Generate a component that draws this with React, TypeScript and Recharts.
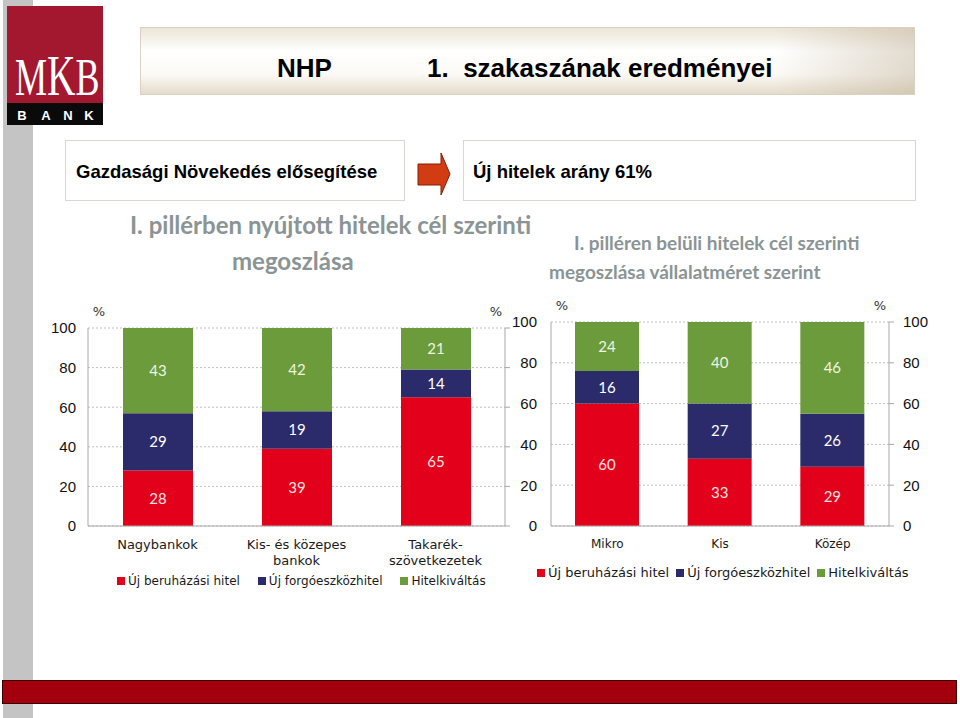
import React from 'react';
import { BarChart, Bar, XAxis, YAxis, CartesianGrid, Legend, LabelList } from 'recharts';

// series shared by both charts
const seriesNames = ['Új beruházási hitel', 'Új forgóeszközhitel', 'Hitelkiváltás'];
const seriesKeys = ['invest', 'working', 'refi'];
const seriesColors = ['#e2001a', '#2b2a6b', '#6b9b3a'];
const labelColors = ['#fde3e3', '#ffffff', '#eef5e2'];

// left chart: by bank type
const bankCategories = ['Nagybankok', 'Kis- és közepes\nbankok', 'Takarék-\nszövetkezetek'];
const bankInvestment = [28, 39, 65];
const bankWorking = [29, 19, 14];
const bankRefinance = [43, 42, 21];

// right chart: by company size
const sizeCategories = ['Mikro', 'Kis', 'Közép'];
const sizeInvestment = [60, 33, 29];
const sizeWorking = [16, 27, 26];
const sizeRefinance = [24, 40, 46];

const percentTicks = [0, 20, 40, 60, 80, 100];

const buildRows = (cats: string[], a: number[], b: number[], c: number[]) =>
  cats.map((name, i) => ({ name, invest: a[i], working: b[i], refi: c[i] }));

const bankRows = buildRows(bankCategories, bankInvestment, bankWorking, bankRefinance);
const sizeRows = buildRows(sizeCategories, sizeInvestment, sizeWorking, sizeRefinance);

const axisColor = '#a8a8a8';
const titleColor = '#8b9494';

const CategoryTick = (props: any) => {
  const { x, y, payload, fontSize, firstDy } = props;
  const lines = String(payload.value).split('\n');
  return (
    <text x={x} y={y} textAnchor="middle" fill="#1a1a1a" fontFamily="DejaVu Sans" fontSize={fontSize}>
      {lines.map((line, i) => (
        <tspan key={i} x={x} dy={i === 0 ? firstDy : 16}>
          {line}
        </tspan>
      ))}
    </text>
  );
};

const percentLabel = (side: 'left' | 'right', dx: number, dy: number) => (props: any) => {
  const vb = props.viewBox || { x: 0, y: 0, width: 0 };
  const x = side === 'left' ? vb.x + vb.width + dx : vb.x - dx;
  return (
    <text x={x} y={vb.y - dy} textAnchor="middle" fill="#333" fontFamily="DejaVu Sans" fontSize={13}>
      %
    </text>
  );
};

const legendContent = (fontSize: number, gap: number) => (props: any) => {
  const items = [...(props.payload || [])].sort(
    (a: any, b: any) => seriesNames.indexOf(a.value) - seriesNames.indexOf(b.value)
  );
  return (
    <div
      style={{
        display: 'flex',
        gap,
        fontFamily: 'DejaVu Sans',
        fontSize,
        color: '#1a1a1a',
        whiteSpace: 'nowrap',
        lineHeight: '16px',
      }}
    >
      {items.map((entry: any) => (
        <span key={entry.value} style={{ display: 'flex', alignItems: 'center' }}>
          <span style={{ width: 8, height: 8, background: entry.color, marginRight: 3 }} />
          {entry.value}
        </span>
      ))}
    </div>
  );
};

interface StackedProps {
  rows: any[];
  width: number;
  height: number;
  marginTop: number;
  marginBottom: number;
  leftWidth: number;
  rightWidth: number;
  leftTickGap: number;
  barSize: number;
  catFontSize: number;
  catDy: number;
  legendFontSize: number;
  legendGap: number;
  legendLeft: number;
  legendTop: number;
  showRightTicks: boolean;
}

const StackedChart = (p: StackedProps) => (
  <BarChart
    width={p.width}
    height={p.height}
    data={p.rows}
    margin={{ top: p.marginTop, right: 0, bottom: p.marginBottom, left: 0 }}
  >
    <CartesianGrid yAxisId="left" vertical={false} stroke="#bfbfbf" strokeDasharray="2 2" />
    <XAxis
      dataKey="name"
      height={40}
      tickLine={false}
      tickSize={0}
      tickMargin={0}
      stroke={axisColor}
      interval={0}
      tick={<CategoryTick fontSize={p.catFontSize} firstDy={p.catDy} />}
    />
    <YAxis
      yAxisId="left"
      orientation="left"
      width={p.leftWidth}
      domain={[0, 100]}
      allowDataOverflow
      ticks={percentTicks}
      interval={0}
      tickLine={false}
      tickSize={0}
      tickMargin={p.leftTickGap}
      stroke={axisColor}
      tick={{ fill: '#111', fontSize: 15, fontFamily: 'Liberation Sans' }}
      label={{ content: percentLabel('left', 11, 12) }}
    />
    <YAxis
      yAxisId="right"
      orientation="right"
      width={p.rightWidth}
      domain={[0, 100]}
      allowDataOverflow
      ticks={percentTicks}
      interval={0}
      tickSize={5}
      tickMargin={9}
      stroke={axisColor}
      tick={p.showRightTicks ? { fill: '#111', fontSize: 15, fontFamily: 'Liberation Sans' } : () => <g />}
      label={{ content: percentLabel('right', 9, 12) }}
    />
    <Legend
      layout="horizontal"
      verticalAlign="middle"
      align="center"
      wrapperStyle={{ left: p.legendLeft, top: p.legendTop, width: 'auto' }}
      content={legendContent(p.legendFontSize, p.legendGap)}
    />
    {seriesKeys.map((key, i) => (
      <Bar
        key={key}
        dataKey={key}
        name={seriesNames[i]}
        yAxisId="left"
        stackId="a"
        fill={seriesColors[i]}
        barSize={p.barSize}
        isAnimationActive={false}
      >
        <LabelList
          dataKey={key}
          position="center"
          fill={labelColors[i]}
          fontSize={15}
          fontFamily="Lato"
        />
      </Bar>
    ))}
  </BarChart>
);

export default function App() {
  return (
    <div
      style={{
        position: 'absolute',
        left: 0,
        top: 0,
        width: 960,
        height: 718,
        background: '#fff',
        overflow: 'hidden',
        fontFamily: '"Liberation Sans", Arial, sans-serif',
      }}
    >
      {/* grey strip on the left */}
      <div style={{ position: 'absolute', left: 3, top: 0, width: 30, height: 718, background: '#c4c4c4' }} />

      {/* logo */}
      <svg style={{ position: 'absolute', left: 7, top: 6 }} width={96} height={120}>
        <rect x={0} y={0} width={96} height={97} fill="#a3172f" />
        <rect x={0} y={97} width={96} height={22} fill="#0a0a0a" />
        <g transform="translate(8,0) scale(0.68,1)">
          <text x={0} y={89} fill="#fff" fontFamily="Liberation Serif">
            <tspan fontSize={53}>M</tspan>
            <tspan fontSize={58}>K</tspan>
            <tspan fontSize={53}>B</tspan>
          </text>
        </g>
        {['B', 'A', 'N', 'K'].map((ch, i) => (
          <text key={ch + i} x={[15, 39, 61, 82][i]} y={114} textAnchor="middle" fill="#fff" fontFamily="Liberation Sans" fontWeight="bold" fontSize={13}>
            {ch}
          </text>
        ))}
      </svg>

      {/* title box */}
      <div
        style={{
          position: 'absolute',
          left: 140,
          top: 27,
          width: 773,
          height: 66,
          border: '1px solid #d9d2c3',
          background:
            'linear-gradient(90deg, rgba(255,255,255,0) 82%, rgba(190,175,150,0.45) 100%), linear-gradient(180deg, #ece5d7 0%, #ffffff 35%, #fcfaf6 70%, #e4dccb 100%)',
        }}
      />
      <div style={{ position: 'absolute', left: 277, top: 55, fontSize: 26, lineHeight: 1, fontWeight: 'bold', color: '#000' }}>NHP</div>
      <div style={{ position: 'absolute', left: 427, top: 55, fontSize: 26, lineHeight: 1, fontWeight: 'bold', color: '#000', whiteSpace: 'pre' }}>
        1.  szakaszának eredményei
      </div>

      {/* sub-header boxes */}
      <div style={{ position: 'absolute', left: 65, top: 140, width: 338, height: 59, border: '1px solid #d8d8d2', background: '#fff' }} />
      <div style={{ position: 'absolute', left: 76, top: 163, fontSize: 18.5, lineHeight: 1, fontWeight: 'bold', color: '#000', whiteSpace: 'nowrap' }}>
        Gazdasági Növekedés elősegítése
      </div>
      <svg style={{ position: 'absolute', left: 416, top: 151 }} width={38} height={48}>
        <polygon points="2,13 25,13 25,2 34,23 25,44 25,34 2,34" fill="#d23c12" stroke="#8a1c05" strokeWidth={1} />
      </svg>
      <div style={{ position: 'absolute', left: 463, top: 140, width: 451, height: 59, border: '1px solid #d8d8d2', background: '#fff' }} />
      <div style={{ position: 'absolute', left: 473, top: 163, fontSize: 18.5, lineHeight: 1, fontWeight: 'bold', color: '#000', whiteSpace: 'nowrap' }}>
        Új hitelek arány 61%
      </div>

      {/* chart titles */}
      <div style={{ position: 'absolute', left: 130, top: 210, fontFamily: 'Lato', fontWeight: 'bold', fontSize: 24, lineHeight: '30px', color: titleColor, whiteSpace: 'nowrap' }}>
        I. pillérben nyújtott hitelek cél szerinti
      </div>
      <div style={{ position: 'absolute', left: 232, top: 246, fontFamily: 'Lato', fontWeight: 'bold', fontSize: 24, lineHeight: '30px', color: titleColor, whiteSpace: 'nowrap' }}>
        megoszlása
      </div>
      <div style={{ position: 'absolute', left: 574, top: 231, fontFamily: 'Lato', fontWeight: 'bold', fontSize: 19, lineHeight: '24px', color: titleColor, whiteSpace: 'nowrap' }}>
        I. pilléren belüli hitelek cél szerinti
      </div>
      <div style={{ position: 'absolute', left: 549, top: 260, fontFamily: 'Lato', fontWeight: 'bold', fontSize: 19, lineHeight: '24px', color: titleColor, whiteSpace: 'nowrap' }}>
        megoszlása vállalatméret szerint
      </div>

      {/* left chart */}
      <div style={{ position: 'absolute', left: 0, top: 290 }}>
        <StackedChart
          rows={bankRows}
          width={540}
          height={310}
          marginTop={38}
          marginBottom={34}
          leftWidth={88}
          rightWidth={35}
          leftTickGap={12}
          barSize={70}
          catFontSize={13}
          catDy={23}
          legendFontSize={12}
          legendGap={18}
          legendLeft={117}
          legendTop={283}
          showRightTicks={false}
        />
      </div>

      {/* right chart */}
      <div style={{ position: 'absolute', left: 505, top: 290 }}>
        <StackedChart
          rows={sizeRows}
          width={435}
          height={310}
          marginTop={32}
          marginBottom={34}
          leftWidth={46}
          rightWidth={51}
          leftTickGap={14}
          barSize={64}
          catFontSize={12}
          catDy={22}
          legendFontSize={13}
          legendGap={7}
          legendLeft={32}
          legendTop={275}
          showRightTicks={true}
        />
      </div>

      {/* bottom bar */}
      <div style={{ position: 'absolute', left: 2, top: 680, width: 953, height: 22, background: '#a1000c', border: '1px solid #3d0000' }} />
    </div>
  );
}
